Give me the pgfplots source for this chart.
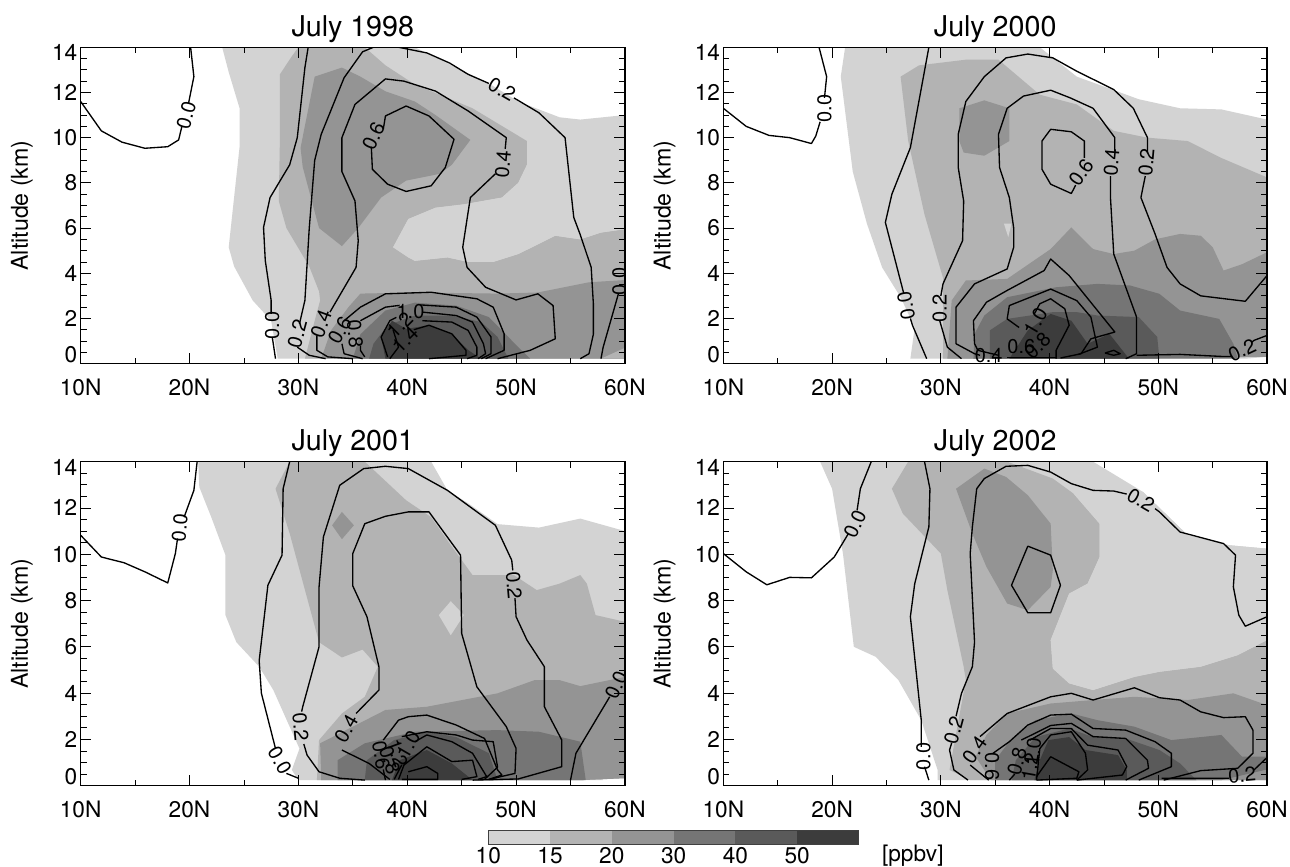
\documentclass[border=0pt]{standalone}
\usepackage{fontspec}
\setmainfont{TeX Gyre Heros}
\usepackage{pgfplots}
\pgfplotsset{compat=1.18}
\definecolor{lvA}{HTML}{D3D3D3}
\definecolor{lvB}{HTML}{B3B3B3}
\definecolor{lvC}{HTML}{949494}
\definecolor{lvD}{HTML}{757575}
\definecolor{lvE}{HTML}{5A5A5A}
\definecolor{lvF}{HTML}{3C3C3C}
\newcommand{\lev}[2]{\addplot[fill=#1,draw=none] coordinates {#2} --cycle;}
\newcommand{\con}[1]{\addplot[black,line width=1pt,line join=round] coordinates {#1};}
\newcommand{\clab}[4]{\node[rotate=#3,inner sep=0pt,font=\fontsize{15}{15}\selectfont] at (axis cs:#1,#2) {#4};}
\pgfplotsset{
  panel/.style={
    scale only axis, axis on top, no markers, unbounded coords=jump,
    anchor=south west, xmin=10, xmax=60, ymin=0, ymax=14,
    axis line style={line width=0.9pt},
    tick style={black,line width=0.6pt},
    major tick length=8pt, minor tick length=4.5pt,
    xtick={10,20,30,40,50,60},
    xticklabels={10N,20N,30N,40N,50N,60N},
    minor xtick={15,25,35,45,55},
    ytick={2,4,6,8,10,12},
    yticklabels={2,4,6,8,10,12},
    minor ytick={0.5,1,1.5,2.5,3,3.5,4.5,5,5.5,6.5,7,7.5,8.5,9,9.5,10.5,11,11.5,12.5,13,13.5},
    extra y ticks={0.38,13.75},
    extra y tick labels={0,14},
    extra y tick style={major tick length=0pt},
    ticklabel style={font=\fontsize{17}{17}\selectfont},
    xticklabel style={yshift=-8pt},
    yticklabel style={xshift=1pt},
    ylabel={Altitude (km)},
    every axis y label/.style={at={(axis description cs:-0.108,0.5)},rotate=90,anchor=center,font=\fontsize{17.4}{17.4}\selectfont},
    title style={font=\fontsize{21.5}{21.5}\selectfont,yshift=-6pt},
  }
}
\begin{document}
\begin{tikzpicture}
\useasboundingbox (0,0) rectangle (967.5pt,650.25pt);

% July 1998
\begin{axis}[panel,at={(60.5pt,377.5pt)},width=408.2pt,height=237.3pt,title={July 1998}]
\lev{lvA}{(23,14)(23.6,12.9)(24.6,11.3)(24.6,9.6)(23.6,5.15)(24.1,4.3)(25.8,2.8)(27.5,1.9)(28.1,.22)(60,.22)(60,11)(55.9,10.8)(54,10.9)(50.2,11.6)(47.5,12.4)(44.5,13.1)(40.7,14)}
\lev{lvB}{(30,14)(29.4,13.6)(28.3,12.8)(28.3,9.85)(28.2,7.2)(28.9,6)(31,4.3)(31.9,3.2)(32,2.8)(31.5,1.9)(30.6,.22)(60,.22)(60,5.95)(57.8,5.8)(55.9,5.5)(53.6,5.66)(52.1,5.3)(50.2,4.85)(47.9,4.5)(45.6,4.5)(43.7,4.7)(40.7,4.55)(40.1,4.7)(38.7,5.15)(40.1,6.4)(42.6,6.9)(45.2,7.05)(48.7,7.35)(50.2,8)(51,8.8)(51,9.85)(46,11.3)(44.5,11.6)(40.7,12.35)(38,13.2)(36.1,14)}
\lev{lvA}{(38.7,5.15)(40.1,6.4)(42.6,6.9)(45.2,7.05)(48.7,7.35)(50.2,8)(51,8.8)(51.5,9.85)(60,9.85)(60,5.95)(57.8,5.8)(55.9,5.5)(53.6,5.66)(52.1,5.3)(50.2,4.85)(47.9,4.5)(45.6,4.5)(43.7,4.7)(40.7,4.55)(40.1,4.7)}
\lev{lvC}{(31.5,12.7)(34,13.1)(35.7,12.7)(38,12.05)(40.7,11.6)(42.6,11)(45.8,9.9)(44.1,8.8)(43,8.4)(39.9,8.1)(37.6,7.35)(35.5,6)(34,5.2)(31.9,6)(30.4,8.7)(30.2,9.55)}
\lev{lvC}{(32.1,.22)(33,1.47)(34.6,2.5)(35.7,3.1)(40.7,3.15)(48.3,3.1)(52,3.15)(56.7,3.6)(60,3.7)(60,.22)}
\lev{lvB}{(57.8,.22)(60,.7)(60,.22)}
\lev{lvD}{(35,.22)(35.7,1.3)(38,2.35)(40.7,2.7)(44.5,2.57)(47.5,2.06)(50.2,.73)(51.3,.22)}
\lev{lvE}{(36.5,.22)(36.9,.88)(38.2,1.7)(40.7,2.13)(44.1,2.13)(46.8,1.84)(48.3,1.18)(49.3,.22)}
\lev{lvF}{(38,.22)(37.6,1.18)(38.6,1.9)(39.9,1.54)(42,1.7)(44.1,1.3)(45.6,.6)(46.8,.22)}
\con{(10,11.6)(11.9,10.3)(13.8,9.8)(15.9,9.53)(18,9.6)(19,9.9)(19.3,10.5)(nan,nan)(19.9,11.5)(20.4,12.7)(20.1,14)}
\con{(27.9,.22)(27.6,1.18)(nan,nan)(27.5,2.2)(27.5,2.8)(26.96,4.56)(26.8,6.03)(27.4,7.35)(29.2,8.8)(29.9,10)(30.6,13.1)(30.9,14)}
\con{(32.5,.22)(31,.37)(29.9,.73)(nan,nan)(30.1,1.76)(30.6,2.8)(31,6)(31.5,9)(32.1,10.15)(34.2,12.65)(35.9,13.8)(36.9,14)(39.2,14)(41.8,13.75)(43.9,13.3)(45.6,12.8)(47.5,12.4)(nan,nan)(49.8,11.76)(52.1,11.1)(54.5,10)(55.3,6.47)(55.9,5.7)(56.9,4.26)(57.1,2.65)(57.1,1.3)(56.7,.44)(55.9,.22)}
\con{(35,.22)(32.7,.3)(31.7,.59)(31.7,1.25)(nan,nan)(32.9,2.28)(35.3,4.26)(35.5,5.44)(35.2,7.2)(34,8.5)(34,10)(35.2,11.47)(38,12.6)(39.7,12.5)(42.6,12.06)(45.6,11.18)(49.1,10)(49,9.5)(nan,nan)(48.1,8.4)(45.8,7.35)(45.1,5.15)(45.5,4.26)(47.2,3.38)(50,2.82)(52,3.09)(53.4,2.57)(53.6,1.1)(51.3,.59)(48.3,.22)}
\con{(39.9,11.4)(42,10.96)(44.3,9.93)(43.5,8.68)(42.2,7.87)(39.9,7.62)(38.2,7.94)(36.8,8.6)(36.7,9.6)(nan,nan)(37.8,10.37)(38,10.96)(39.9,11.4)}
\con{(35.9,.22)(34.2,.44)(34,.88)(nan,nan)(34.2,1.9)(35.7,2.5)(38,3.09)(42.2,3.16)(46.4,2.87)(47.9,2.5)(48.9,1.32)(48.9,.59)(47.2,.22)}
\con{(36.1,.3)(35.7,.59)(35.7,.8)(nan,nan)(35.7,1.9)(38,2.5)(39.3,2.58)(nan,nan)(41.2,2.6)(44.5,2.5)(46.4,2.06)(47.7,1.18)(47.7,.44)(46.8,.22)}
\con{(38.2,.3)(37.6,1.18)(38.4,1.9)(39,2.05)(nan,nan)(41.4,2.28)(44.5,2.13)(46,1.84)(47,.88)(47.2,.44)(46.5,.22)}
\con{(41.4,1.9)(44.1,1.84)(45.6,1.47)(46.4,.73)(46.4,.37)(45.5,.22)}
\con{(40.6,1.5)(42,1.7)(44.1,1.32)(45.4,.59)(45.4,.37)(42,.22)}
\con{(38.4,.22)(39.2,.73)(38.7,1.5)}
\con{(57.8,.22)(58,.73)(59.4,3.09)(nan,nan)(60,4.7)}
\clab{19.7}{11.0}{75}{0.0}
\clab{27.6}{1.69}{90}{0.0}
\clab{29.9}{1.32}{75}{0.2}
\clab{32.1}{1.76}{70}{0.4}
\clab{33.8}{1.47}{60}{0.6}
\clab{35.2}{1.32}{-85}{0.8}
\clab{40.3}{2.3}{0}{1.0}
\clab{39.3}{1.71}{45}{1.2}
\clab{39.8}{1.08}{45}{1.4}
\clab{48.7}{12.13}{-30}{0.2}
\clab{36.9}{10.07}{65}{0.6}
\clab{48.8}{8.82}{85}{0.4}
\clab{59.5}{3.65}{90}{0.0}
\end{axis}

% July 2000
\begin{axis}[panel,at={(542.5pt,377.5pt)},width=407.8pt,height=237.3pt,title={July 2000}]
\lev{lvA}{(21.2,14)(20.8,12.7)(21.9,8.5)(23.2,6.2)(24.6,4.26)(26.3,2.94)(27.6,1.6)(27.2,.22)(58,.22)(60,.3)(60,10.8)(55.8,11.25)(52,11.3)(48.2,11.7)(42.5,12.7)(39.1,14)}
\lev{lvB}{(26.3,12.7)(28,13.2)(32.3,13.45)(35.3,13.45)(39.1,11.9)(42.5,11.47)(45.9,10.3)(49,10)(52.7,9.85)(55.8,9.1)(60,8.24)(60,.3)(30.2,.22)(30.2,3.8)(28.5,6.6)(27,9.85)}
\lev{lvA}{(35.8,6.2)(36.5,6.2)(36.2,5.6)}
\lev{lvC}{(31.7,11.3)(34,11.65)(36.3,11.3)(36.3,9.85)(34,9.2)(32.1,9.34)(31.7,9.85)}
\lev{lvC}{(30.6,.22)(31,2.8)(32.3,3.68)(36.1,3.75)(40.1,5.07)(42,6.03)(44,5.07)(45.9,4.85)(47.8,5)(49.7,5.5)(52,5.74)(53.9,5.66)(55,5.15)(56,4.12)(57.7,4.4)(60,4.93)(60,.3)}
\lev{lvD}{(33,.22)(33.1,1.32)(34,2.13)(36.1,2.94)(40.6,3.38)(44.4,3.53)(47.4,3.46)(50.1,3.09)(52,2.35)(55.6,1.98)(56.9,.88)(57.3,.22)}
\lev{lvE}{(34.5,.22)(34.5,1.47)(36.1,1.98)(40.3,2.28)(42.5,2.28)(44.4,2.13)(48.2,2.06)(49.9,1.18)(50.1,.22)}
\lev{lvF}{(36.3,.22)(38,1.47)(40.1,2.2)(42,1.9)(43.5,.88)(45.5,1.32)(47.3,.22)}
\con{(10,11.3)(12.1,10.5)(14.2,10.1)(16.1,10)(18.1,9.74)(18.5,10.07)(18.9,10.7)(nan,nan)(19.3,11.76)(19.5,12.7)(18.8,14)}
\con{(28.7,.22)(27.4,1.69)(27.2,2)(nan,nan)(26.6,3.09)(24.9,6.25)(25.5,7.5)(27.2,9.56)(28.9,14)}
\con{(31.9,.22)(30.6,.73)(29.9,1.9)(nan,nan)(30,3)(30.2,3.53)(32,5.44)(32.1,7.2)(31.6,8.68)(31.6,10.15)(32.3,11.6)(34,12.7)(36,13.53)(38,13.7)(40.3,13.53)(42.5,12.94)(45.9,12.13)(47.7,11.3)(49,10)(49,9.3)(nan,nan)(48.8,8.3)(48.4,7.35)(49.7,5.74)(50.8,4.26)(52,3.53)(53.9,3)(58,2.76)(60,3.9)}
\con{(33.6,.37)(33.1,.44)(31.4,.88)(31.4,2.5)(33.1,3.53)(36.1,4.19)(36.7,5.15)(36.7,6)(36.3,7.35)(35.4,8.68)(35.3,10.15)(36.1,11.3)(37.6,11.84)(40.1,12.1)(41.9,11.76)(44,11.3)(46,10)(46,9.4)(nan,nan)(45.6,8.3)(45.6,7.35)(45.9,4.85)(48,2.06)(48,.44)(47,.22)}
\con{(40.1,10.37)(42,10.26)(43.2,9.85)(43.2,9.1)(nan,nan)(42.4,7.9)(42,7.53)(40.1,7.94)(39.3,8.6)(39.3,9.85)(40.1,10.37)}
\con{(35.3,.37)(33.4,.59)(33.1,.88)(33,1.9)(34.2,2.72)(36.1,3.24)(39.5,4.12)(40.1,4.63)(41.8,3.9)(46,1.4)(43.8,1.1)(42.9,.44)(41,.25)}
\con{(37.2,1.6)(36.1,1.98)(36.3,2.57)(40.1,3.3)(42.5,2.79)(43.8,2.06)(44.4,.73)(42.6,.4)}
\con{(38.6,2.2)(39.1,2.65)(40.1,2.87)(41.4,2.43)(41.8,1.7)(40.6,.59)(40.6,.22)}
\con{(45.1,.47)(45.9,.59)(46.5,.44)(45.9,.37)(45.1,.47)}
\con{(48,.37)(52,.41)(55.8,.32)(56.8,.32)(nan,nan)(58.6,.95)(58.8,1.03)(60,1.25)}
\con{(36.1,.26)(40.6,.26)}
\clab{19.3}{11.3}{90}{0.0}
\clab{26.8}{2.57}{100}{0.0}
\clab{29.9}{2.43}{90}{0.2}
\clab{34.4}{.37}{0}{0.4}
\clab{37.4}{.74}{0}{0.6}
\clab{38.7}{1.85}{60}{1.0}
\clab{38.9}{.8}{45}{0.8}
\clab{42.9}{8.46}{55}{0.6}
\clab{45.7}{8.9}{85}{0.4}
\clab{48.9}{8.9}{85}{0.2}
\clab{57.7}{.59}{25}{0.2}
\end{axis}

% July 2001
\begin{axis}[panel,at={(60.5pt,61pt)},width=408.2pt,height=243pt,title={July 2001}]
\lev{lvA}{(20.8,14)(20.9,12.9)(22,11.6)(23.3,9.96)(23.3,7.37)(24.3,6.2)(26.4,5.14)(27.7,4.13)(30.1,1.6)(29.4,.68)(30,.24)(58,.24)(58,.4)(60,.4)(60,11)(55.9,11.54)(52.1,11.15)(48.3,11.3)(45.6,12.2)(43.7,12.76)(42.2,14)}
\lev{lvB}{(29.2,14)(27.9,12.83)(29.2,10.9)(31.9,6.2)(34,5.54)(35.9,5.88)(37.3,5.14)(36.1,3.84)(34,3.12)(31.9,1.97)(31.7,.24)(55.9,.24)(60,.32)(60,7.08)(57.3,7.37)(56.5,8.73)(55.9,9.1)(54,8.73)(51.9,8.45)(49.8,9.1)(46,9.1)(43.9,10.46)(42.2,11.6)(39.9,12.33)(36.1,14)}
\lev{lvA}{(44,7.97)(45.2,7.37)(44,6.5)(42.9,7.37)}
\lev{lvC}{(34,11.83)(35.1,11.25)(34,10.65)(33.1,11.25)}
\lev{lvC}{(32.1,.24)(32,1.83)(35,2.55)(38,3.27)(41.8,3.41)(48.3,3.99)(51.7,4.56)(54,4.56)(55.9,4.3)(60,4.7)(60,.32)(56,.24)}
\lev{lvD}{(33.6,.24)(33.6,1.1)(36.1,1.83)(40.7,2.33)(48.3,2.4)(52.1,2.33)(55.9,1.9)(56.4,.24)}
\lev{lvE}{(36.1,.24)(36.3,1.1)(38.8,1.97)(41.8,2.33)(44.5,2.1)(47.5,1.4)(48.3,.24)}
\lev{lvF}{(38.6,.24)(39.3,1.1)(41.8,1.54)(44.1,.96)(46,.24)}
\con{(10,10.82)(11.9,9.88)(14,9.63)(15.9,9.24)(18,8.76)(18.7,10.03)(18.9,10.68)(nan,nan)(19.5,11.6)(20.4,12.76)(20.7,14)}
\con{(30,.32)(28.9,.53)(nan,nan)(27.9,1.6)(26.6,4)(26.4,5.4)(27.2,8.66)(28.5,9.96)(28.6,12.83)(29.2,14)}
\con{(55,.24)(55.5,1.4)(58.6,3.84)(nan,nan)(60,5.28)}
\con{(36.1,.24)(33.8,.32)(31.9,.6)(30.8,1.32)(30.5,1.8)(nan,nan)(30.3,3.2)(30.4,3.41)(31.9,6)(31.9,8.59)(32.3,10.75)(33.8,12.98)(36,13.7)(38,13.8)(40.1,13.7)(43.7,12.76)(46,11.97)(48.1,11.25)(49.6,9.74)(49.7,9.3)(nan,nan)(49.9,8.1)(50,7.3)(51,6.29)(52.6,5.14)(52.6,3.41)(54.2,1.97)(54.2,.82)(50.2,.29)(46,.24)}
\con{(38.4,.27)(36.5,.96)(34,1.54)(nan,nan)(35.3,3.12)(37.4,4.13)(37.4,5.14)(36.3,7.3)(35,8.63)(35,10.03)(36.1,11.32)(38,11.64)(40.1,11.83)(42,11.83)(44.9,9.96)(45,6.58)(46.4,4.27)(49.1,2.55)(50,1.61)(49.9,.53)(47.5,.27)}
\con{(37.8,1.97)(39.2,2.83)(40.1,2.98)(41.8,3.05)(44.5,2.62)(47.1,2.04)(48.3,.68)(48.7,.46)(47.5,.27)}
\con{(38,.24)(37.8,.7)(nan,nan)(39.5,2.12)(41.8,2.33)(44.5,2.19)(46,1.97)(47.9,1.9)(48.3,.8)(47.1,.27)}
\con{(38.8,.27)(39.5,.9)(nan,nan)(40.7,1.9)(41.8,2.19)(44.1,1.9)(46,1.4)(47.3,.39)(46.5,.27)}
\con{(39.2,.27)(39.7,.89)(41.8,1.68)(44.1,1.04)(46,1.1)(46.4,.39)(45,.27)}
\con{(40.1,.6)(41.8,.82)(42.8,.53)(42.8,.27)(39.5,.27)}
\clab{19.1}{11.15}{85}{0.0}
\clab{28.3}{1.1}{-60}{0.0}
\clab{30.2}{2.55}{-85}{0.2}
\clab{34.4}{2.47}{60}{0.4}
\clab{49.8}{8.66}{-85}{0.2}
\clab{59.2}{4.35}{65}{0.0}
\clab{37.6}{1.32}{-80}{0.6}
\clab{38.4}{1.1}{-70}{0.8}
\clab{39.1}{1.4}{-70}{1.2}
\clab{40.1}{1.76}{60}{1.0}
\end{axis}

% July 2002
\begin{axis}[panel,at={(542.5pt,61pt)},width=407.8pt,height=243pt,title={July 2002}]
\lev{lvA}{(18.9,14)(20,12.83)(21,10.03)(22,6)(24,5.57)(26.1,4.56)(28.2,2.83)(29.7,.68)(29.7,.24)(60,.24)(60,10.24)(56.5,10.39)(52.7,10.82)(48.6,12.69)(44,14)}
\lev{lvB}{(27,14)(25.5,12.83)(26.5,11.76)(30,10.03)(30.6,8.45)(32.1,5.14)(32.3,4.56)(30.8,.68)(32.7,.24)(60,.24)(60,6.29)(57.3,5.64)(53.9,5.14)(50.1,4.92)(47.8,4.7)(44,4.13)(41.8,4.42)(40.3,5.06)(40.1,6.29)(41.8,8.3)(43.5,8.73)(44.6,9.88)(44.6,11.32)(42.2,12.62)(40.3,13.27)(36.1,14)}
\lev{lvA}{(40.1,6.29)(41.8,8.3)(43.5,8.73)(44.6,9.88)(44.6,11.32)(42.2,12.62)(42.3,13.4)(48.6,12.69)(52.7,10.82)(56.5,10.39)(60,10.24)(60,6.29)(57.3,5.64)(53.9,5.14)(50.1,4.92)(47.8,4.7)(44,4.13)(41.8,4.42)(40.3,5.06)}
\lev{lvC}{(34,13.7)(36,13.34)(38,12.55)(40.1,11.32)(40.3,9.31)(40.1,8.59)(38,7.58)(36.1,7.87)(34.2,9.45)(32.9,10.89)(31.4,12.83)}
\lev{lvC}{(34.2,2.19)(36.1,3.12)(40.1,3.55)(44,3.7)(47.8,3.84)(52.7,3.7)(56.9,3.99)(60,3.48)(60,.24)(34.6,.24)(33.2,1.25)}
\lev{lvD}{(35,.24)(35,1.1)(36.3,1.9)(38.7,2.83)(42,3.12)(44.4,2.83)(47.8,2.55)(51.2,1.97)(55.8,2.19)(57.7,1.25)(60,1.25)(60,.7)(55.8,.24)}
\lev{lvE}{(36.5,.24)(36.9,1.1)(38.7,2.1)(41.8,2.47)(44,2.1)(47,2.04)(50.1,1.54)(52,.96)(53.5,.24)}
\lev{lvF}{(38.6,.24)(39.1,1.1)(39.9,1.97)(41.8,2.1)(43.3,1.54)(46.3,1.32)(47.1,.68)(47.1,.24)}
\con{(10,10.03)(12.1,9.24)(14,8.68)(16.1,9)(18.1,8.98)(20.2,9.88)(21.5,10.89)(nan,nan)(22.3,11.9)(22.6,12.83)(23.6,14)}
\con{(28.9,.24)(28.5,.82)(nan,nan)(28.2,1.68)(28.2,2.83)(27.2,7.3)(27.6,8.73)(28.9,11.18)(29,12.83)(28.5,14)}
\con{(32.5,.24)(31.2,.68)(30.8,1.54)(31,1.85)(nan,nan)(31.4,3)(31.9,3.99)(32.9,5.14)(33.1,6.2)(32.7,10.03)(32.9,11.18)(33.3,12.83)(34,13.27)(36,13.8)(38,13.84)(40.1,13.55)(42,13.05)(44,12.76)(45.9,12.73)(47.1,12.6)(nan,nan)(49.7,11.97)(50.1,11.83)(52,10.96)(56,10.46)(57.1,9.96)(56.9,8.59)(57.4,7.37)(58,6.89)(60,7.3)}
\con{(50.3,.32)(56.5,.32)(nan,nan)(58.8,.68)(60,1.22)}
\con{(34.4,.24)(32.7,.89)(nan,nan)(33.6,2.12)(36.1,3.12)(40.1,3.84)(42,3.99)(44,3.7)(47.8,4.23)(50.1,3.8)(52,3.7)(53.9,3.19)(56,2.94)(58,2.98)(58.7,2.4)(58.7,1.4)(57.3,.75)(53.9,.65)(50.5,.24)}
\con{(34.8,1.4)(36.3,1.9)(38,2.62)(40.1,3.05)(42,3.09)(44,2.47)(47,2.4)(49.7,1.9)(51.2,1.4)(51.2,.82)(48.2,.24)}
\con{(36.3,.24)(36.8,.5)(nan,nan)(37.4,1.97)(40.1,2.6)(42,2.69)(44,2.12)(47,2.04)(49,1.1)(49.1,.75)(47,.24)}
\con{(38.2,1.97)(40.1,2.47)(42,2.47)(43.5,1.75)(46.3,1.54)(47.1,.82)(46.7,.46)(42.5,.24)}
\con{(38.8,.24)(39.1,1.6)(40.1,2.19)(42,2.33)(43.3,1.4)(43.5,.68)(42.5,.24)}
\con{(38.8,.39)(40.1,1.25)(42.7,.6)(42.5,.32)(38.8,.24)}
\con{(38,10.35)(40.1,9.96)(41,8.66)(40.1,7.47)(38,7.47)(36.5,8.66)(38,10.35)}
\clab{22.1}{11.32}{65}{0.0}
\clab{28.4}{1.25}{90}{0.0}
\clab{31.2}{2.4}{75}{0.2}
\clab{33.1}{1.54}{55}{0.4}
\clab{34.7}{.82}{-90}{0.6}
\clab{37}{1.04}{75}{0.8}
\clab{38.5}{1.47}{85}{1.0}
\clab{38.2}{.82}{80}{1.2}
\clab{48.4}{12.33}{-30}{0.2}
\clab{57.7}{.46}{5}{0.2}
\end{axis}

% colour key
\begin{axis}[scale only axis,axis on top,at={(366.2pt,17.2pt)},anchor=south west,width=278pt,height=10.2pt,
  xmin=0,xmax=6,ymin=0,ymax=1,clip=false,ytick=\empty,
  xtick={0,1,2,3,4,5},xticklabels={10,15,20,30,40,50},
  major tick length=0pt,axis line style={line width=0.8pt,color=black!75},
  ticklabel style={font=\fontsize{17}{17}\selectfont},xticklabel style={yshift=1pt}]
\lev{lvA}{(0,0)(1,0)(1,1)(0,1)}
\lev{lvB}{(1,0)(2,0)(2,1)(1,1)}
\lev{lvC}{(2,0)(3,0)(3,1)(2,1)}
\lev{lvD}{(3,0)(4,0)(4,1)(3,1)}
\lev{lvE}{(4,0)(5,0)(5,1)(4,1)}
\lev{lvF}{(5,0)(6,0)(6,1)(5,1)}
\node[anchor=west,font=\fontsize{17}{17}\selectfont,inner sep=0pt] at (axis cs:6.37,-0.85) {[ppbv]};
\end{axis}
\end{tikzpicture}
\end{document}
